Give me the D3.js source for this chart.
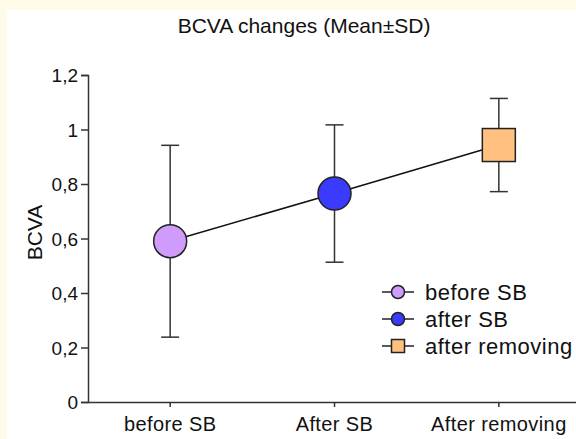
<!DOCTYPE html>
<html>
<head>
  <script src="https://cdn.jsdelivr.net/npm/d3@7"></script>
  <style>
    body { margin: 0; background: #fffbe8; }
    svg { display: block; font-family: "Liberation Sans", Arial, sans-serif; }
  </style>
</head>
<body>
  <svg width="576" height="439"></svg>
<script>
  // data
  const categories = ['before SB', 'After SB', 'After removing'];
  const seriesNames = ['before SB', 'after SB', 'after removing'];
  const means = [0.59, 0.765, 0.943];
  const sds = [0.352, 0.252, 0.171];
  const yTicks = [0, 0.2, 0.4, 0.6, 0.8, 1, 1.2];

  const fills = ['#d09cfc', '#3b3bff', '#ffc080'];
  const shapes = ['circle', 'circle', 'square'];

  const svg = d3.select('svg');

  // white panel on the cream page
  svg.append('rect')
    .attr('x', 7).attr('y', 10)
    .attr('width', 576 - 7).attr('height', 439 - 10)
    .attr('fill', '#fff');

  const x = d3.scaleBand()
    .domain(categories)
    .range([88, 581]);
  const y = d3.scaleLinear()
    .domain([0, 1.2])
    .range([402, 75]);

  // y axis
  const yAxis = svg.append('g')
    .attr('transform', 'translate(88,0)')
    .call(d3.axisLeft(y).tickValues(yTicks).tickSize(7).tickPadding(3)
      .tickFormat(d => String(d).replace('.', ',')));
  yAxis.select('.domain').attr('stroke', '#333').attr('stroke-width', 1.5);
  yAxis.selectAll('.tick line').attr('stroke', '#333').attr('stroke-width', 1.5);
  yAxis.selectAll('.tick text').attr('fill', '#111').style('font-size', '19px').attr('dy', '0.35em');

  // x axis
  const xAxis = svg.append('g')
    .attr('transform', 'translate(0,402)')
    .call(d3.axisBottom(x).tickSize(5).tickSizeOuter(0).tickPadding(10));
  xAxis.select('.domain').attr('stroke', '#333').attr('stroke-width', 1.5);
  xAxis.selectAll('.tick line').attr('stroke', '#333').attr('stroke-width', 1.5);
  xAxis.selectAll('.tick text').attr('fill', '#111')
    .style('font-size', '20px').style('letter-spacing', '0.4px');

  // titles
  svg.append('text')
    .attr('x', 304).attr('y', 33)
    .attr('text-anchor', 'middle')
    .style('font-size', '21px')
    .attr('fill', '#111')
    .text('BCVA changes (Mean\u00B1SD)');

  svg.append('text')
    .attr('transform', 'translate(42,' + ((75 + 402) / 2 - 6) + ') rotate(-90)')
    .attr('text-anchor', 'middle')
    .style('font-size', '21px')
    .attr('fill', '#111')
    .text('BCVA');

  const cx = d => x(d) + x.bandwidth() / 2;

  // connecting line
  svg.append('path')
    .datum(categories.map((c, i) => [cx(c), y(means[i])]))
    .attr('d', d3.line())
    .attr('fill', 'none')
    .attr('stroke', '#111')
    .attr('stroke-width', 1.5);

  // error bars
  const eb = svg.append('g').attr('stroke', '#333').attr('stroke-width', 1.5);
  categories.forEach((c, i) => {
    const px = cx(c);
    const hi = y(means[i] + sds[i]);
    const lo = y(means[i] - sds[i]);
    eb.append('line').attr('x1', px).attr('x2', px).attr('y1', hi).attr('y2', lo);
    eb.append('line').attr('x1', px - 9).attr('x2', px + 9).attr('y1', hi).attr('y2', hi);
    eb.append('line').attr('x1', px - 9).attr('x2', px + 9).attr('y1', lo).attr('y2', lo);
  });

  function marker(g, shape, px, py, size, fill) {
    if (shape === 'circle') {
      g.append('circle').attr('cx', px).attr('cy', py).attr('r', size)
        .attr('fill', fill).attr('stroke', '#222').attr('stroke-width', 1.5);
    } else {
      g.append('rect').attr('x', px - size).attr('y', py - size)
        .attr('width', size * 2).attr('height', size * 2)
        .attr('fill', fill).attr('stroke', '#222').attr('stroke-width', 1.5);
    }
  }

  const pts = svg.append('g');
  categories.forEach((c, i) => {
    marker(pts, shapes[i], cx(c), y(means[i]), 16.5, fills[i]);
  });

  // legend
  const legend = svg.append('g').attr('transform', 'translate(382,292)');
  seriesNames.forEach((name, i) => {
    const row = legend.append('g').attr('transform', 'translate(0,' + (i * 27) + ')');
    row.append('line').attr('x1', 0).attr('x2', 32).attr('y1', 0).attr('y2', 0)
      .attr('stroke', '#222').attr('stroke-width', 1.5);
    marker(row, shapes[i], 16, 0, 6.5, fills[i]);
    row.append('text')
      .attr('x', 43).attr('y', 0).attr('dy', '0.35em')
      .style('font-size', '22px').style('letter-spacing', '0.5px')
      .attr('fill', '#111')
      .text(name);
  });
</script>
</body>
</html>
